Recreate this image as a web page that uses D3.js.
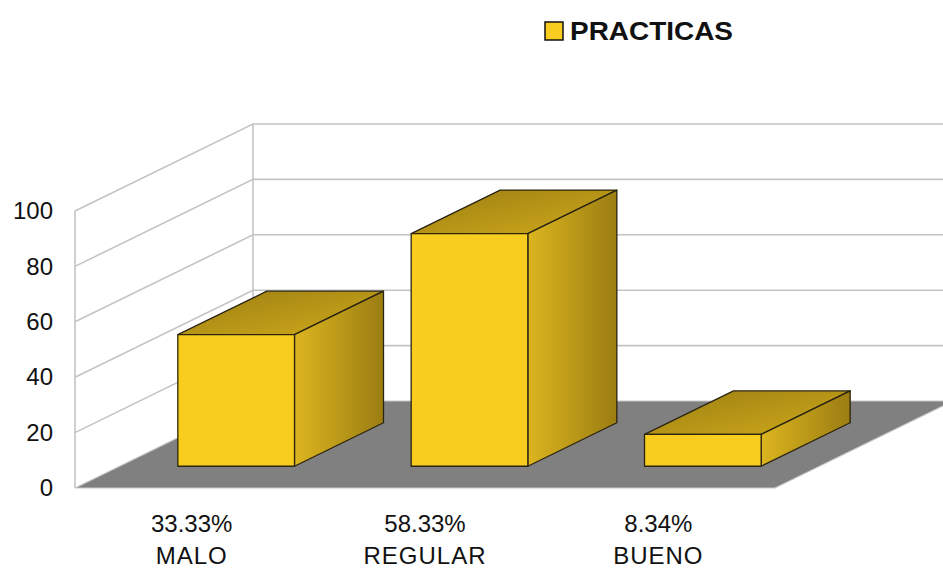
<!DOCTYPE html>
<html><head><meta charset="utf-8">
<script src="https://cdn.jsdelivr.net/npm/d3@7"></script>
<style>body{margin:0;background:#fff}svg{display:block}text{font-family:Arial,"Liberation Sans",sans-serif;fill:#111}</style>
</head><body><svg id="c" width="943" height="568"></svg>
<script>
const categories = ["MALO", "REGULAR", "BUENO"];
const pctLabels = ["33.33%", "58.33%", "8.34%"];
const values = [47.5, 84, 11.5];
const tickValues = [0, 20, 40, 60, 80, 100];
const seriesName = "PRACTICAS";

const svg = d3.select("#c");
const W = 943;
const x0 = 75, y0 = 488, plotW = 700, depthX = 178, depthY = 87;
const x = d3.scaleBand().domain(categories).range([0, plotW]).paddingInner(0.5).paddingOuter(0.25);
const y = d3.scaleLinear().domain([0, 100]).range([0, 277]);
const px = (xv, z) => x0 + xv + z * depthX;
const py = (v, z) => y0 - y(v) - z * depthY;

const defs = svg.append("defs");
const gTop = defs.append("linearGradient").attr("id", "gTop").attr("x1", 0).attr("y1", 0).attr("x2", 1).attr("y2", 1);
gTop.append("stop").attr("offset", 0).attr("stop-color", "#9c7f12");
gTop.append("stop").attr("offset", 1).attr("stop-color", "#cfa91b");
const gSide = defs.append("linearGradient").attr("id", "gSide").attr("x1", 0).attr("y1", 0).attr("x2", 1).attr("y2", 0);
gSide.append("stop").attr("offset", 0).attr("stop-color", "#dcb51f");
gSide.append("stop").attr("offset", 1).attr("stop-color", "#9b7d12");

const line = d3.line();
const gridCol = "#c4c4c4";

// floor
svg.append("path")
  .attr("d", line([[px(0,0), py(0,0)], [px(0,1), py(0,1)], [px(plotW,1), py(0,1)], [px(plotW,0), py(0,0)]]) + "Z")
  .attr("fill", "#808080").attr("stroke", "#c8c8c8").attr("stroke-width", 1.2);

// walls grid
const grid = svg.append("g").attr("fill", "none").attr("stroke", gridCol).attr("stroke-width", 1.6);
tickValues.forEach(v => {
  if (v > 0) {
    grid.append("path").attr("d", line([[px(0,0), py(v,0)], [px(0,1), py(v,1)], [px(plotW,1), py(v,1)]]));
  }
});
grid.append("path").attr("d", line([[px(0,0), py(0,0)], [px(0,0), py(100,0)]]));
grid.append("path").attr("d", line([[px(0,1), py(0,1)], [px(0,1), py(100,1)]]));

// bars
const z0 = 0.25, z1 = 0.75;
const bars = svg.append("g").attr("stroke", "#2a2410").attr("stroke-width", 1.3).attr("stroke-linejoin", "round");
categories.forEach((c, i) => {
  const v = values[i];
  const a = x(c), b = x(c) + x.bandwidth();
  const g = bars.append("g");
  g.append("path").attr("fill", "url(#gTop)")
    .attr("d", line([[px(a,z0), py(v,z0)], [px(a,z1), py(v,z1)], [px(b,z1), py(v,z1)], [px(b,z0), py(v,z0)]]) + "Z");
  g.append("path").attr("fill", "url(#gSide)")
    .attr("d", line([[px(b,z0), py(v,z0)], [px(b,z1), py(v,z1)], [px(b,z1), py(0,z1)], [px(b,z0), py(0,z0)]]) + "Z");
  g.append("path").attr("fill", "#f8cd20")
    .attr("d", line([[px(a,z0), py(v,z0)], [px(b,z0), py(v,z0)], [px(b,z0), py(0,z0)], [px(a,z0), py(0,z0)]]) + "Z");
});

// y axis
const yScreen = d3.scaleLinear().domain([0, 100]).range([py(0,0), py(100,0)]);
const ax = svg.append("g").attr("transform", `translate(${x0},0)`)
  .call(d3.axisLeft(yScreen).tickValues(tickValues).tickSize(0).tickPadding(22));
ax.select(".domain").remove();
ax.selectAll("text").attr("font-size", 24).attr("fill", "#111").attr("font-family", "Arial, 'Liberation Sans', sans-serif");

// category labels
const lab = svg.append("g").attr("font-size", 24).attr("text-anchor", "middle");
categories.forEach((c, i) => {
  const cx = x0 + (i + 0.5) * (plotW / categories.length);
  lab.append("text").attr("x", cx).attr("y", 532).text(pctLabels[i]);
  lab.append("text").attr("x", cx).attr("y", 564).attr("letter-spacing", 1).text(c);
});

// legend
svg.append("rect").attr("x", 545).attr("y", 22).attr("width", 18).attr("height", 18)
  .attr("fill", "#f8cd20").attr("stroke", "#111").attr("stroke-width", 1.5);
svg.append("text").attr("x", 570).attr("y", 40).attr("font-size", 26).attr("font-weight", "bold")
  .attr("textLength", 163).attr("lengthAdjust", "spacingAndGlyphs").text(seriesName);
</script></body></html>
